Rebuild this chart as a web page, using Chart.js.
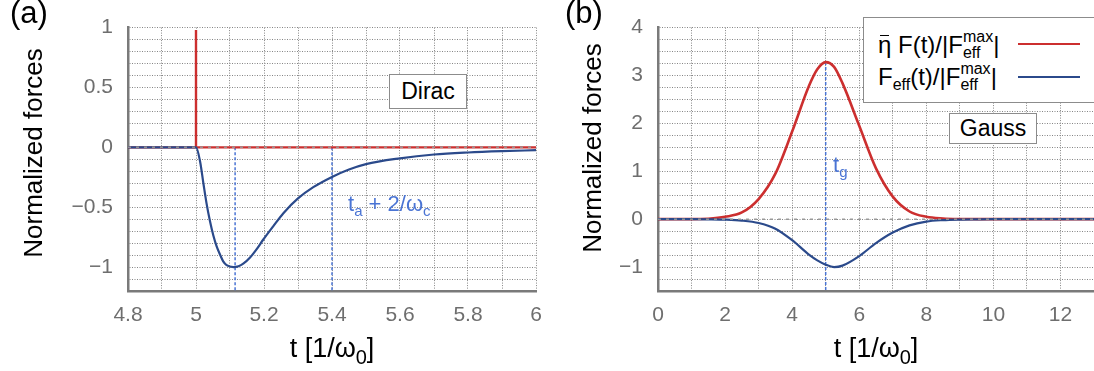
<!DOCTYPE html>
<html>
<head>
<meta charset="utf-8">
<script src="https://cdn.jsdelivr.net/npm/chart.js@4.4.1/dist/chart.umd.min.js"></script>
<style>
html,body{margin:0;padding:0;background:#fff;}
body{width:1094px;height:371px;position:relative;overflow:hidden;font-family:'Liberation Sans',Arial,Helvetica,sans-serif;}
canvas{position:absolute;top:0;}
.t{position:absolute;white-space:nowrap;color:#000;}
.panel{font-size:31px;line-height:1;}
.ytitle{font-size:26px;line-height:1;transform:translate(-50%,-50%) rotate(-90deg);}
.xtitle{font-size:27px;line-height:40px;transform:translateX(-50%);}
.xtitle .sub{font-size:20px;vertical-align:-7px;line-height:1;}
.box{position:absolute;box-sizing:border-box;border:1.5px solid #8c8c8c;background:#fff;display:flex;align-items:center;justify-content:center;font-size:23px;line-height:1;color:#000;}
.leg{font-size:24px;line-height:40px;}
.leg .ss{display:inline-block;vertical-align:-5px;font-size:16px;line-height:16px;}
.leg .ss span{display:block;}
.leg .sub{font-size:16px;line-height:1;vertical-align:-5px;}
.eta{position:relative;display:inline-block;}
.eta::before{content:'';position:absolute;left:2px;right:2px;top:10px;height:1.6px;background:#000;}
.ann{font-size:22px;line-height:40px;color:#4a74d4;}
.ann .sub{font-size:15px;line-height:1;vertical-align:-5px;}
.legline{position:absolute;height:2px;}
</style>
</head>
<body>
<canvas id="cA" width="546" height="371" style="left:0;width:546px;height:371px;"></canvas>
<canvas id="cB" width="544" height="371" style="left:550px;width:544px;height:371px;"></canvas>

<div class="t panel" style="left:10px;top:-3px;">(a)</div>
<div class="t panel" style="left:565px;top:-3px;">(b)</div>

<div class="t ytitle" style="left:33px;top:153px;">Normalized forces</div>
<div class="t ytitle" style="left:592px;top:148px;">Normalized forces</div>

<div class="t xtitle" style="left:332px;top:328px;">t [1/ω<span class="sub">0</span>]</div>
<div class="t xtitle" style="left:876px;top:328px;">t [1/ω<span class="sub">0</span>]</div>

<div class="box" style="left:389px;top:74px;width:78px;height:35px;">Dirac</div>
<div class="box" style="left:949px;top:113px;width:88px;height:31px;">Gauss</div>

<div class="box" style="left:863px;top:17px;width:240px;height:86px;"></div>
<div class="t leg" style="left:878px;top:24.7px;"><span class="eta">η</span> F(t)/|F<span class="ss"><span>max</span><span>eff</span></span>|</div>
<div class="t leg" style="left:878px;top:56.7px;">F<span class="sub">eff</span>(t)/|F<span class="ss"><span>max</span><span>eff</span></span>|</div>
<div class="legline" style="left:1018px;top:43px;width:62px;background:#cc2f2f;"></div>
<div class="legline" style="left:1018px;top:76px;width:62px;background:#2b4a8b;"></div>

<div class="t ann" style="left:348px;top:184.4px;">t<span class="sub">a</span> + 2/ω<span class="sub">c</span></div>
<div class="t ann" style="left:833px;top:145.4px;">t<span class="sub">g</span></div>

<script>
// ---------- Panel (a): Dirac drive ----------
const aTime = [4.8, 5.0, 5.012, 5.022, 5.031, 5.041, 5.051, 5.061, 5.071, 5.08, 5.09, 5.11, 5.125, 5.139, 5.159, 5.178, 5.198, 5.227, 5.257, 5.3, 5.345, 5.4, 5.45, 5.5, 5.6, 5.7, 5.8, 5.9, 6.0];
const aEff  = [0, 0, -0.118, -0.306, -0.468, -0.616, -0.737, -0.83, -0.898, -0.952, -0.984, -1.0, -0.993, -0.972, -0.92, -0.852, -0.77, -0.66, -0.55, -0.427, -0.333, -0.247, -0.185, -0.14, -0.092, -0.06, -0.043, -0.032, -0.024];
const aDriveTime = [4.8, 5.0, 5.0, 5.0, 6.0];
const aDrive     = [0, 0, 0.98, 0, 0];
const aMarkers = [5.115, 5.4];          // t_min and t_a + 2/ω_c
const aXRange = [4.8, 6.0];
const aYRange = [-1.2, 1.0];

// ---------- Panel (b): Gauss drive ----------
const bTime  = [0, 0.5, 1, 1.5, 2, 2.5, 3, 3.5, 4, 4.5, 4.75, 5, 5.25, 5.5, 6, 6.5, 7, 7.5, 8, 8.5, 9, 9.5, 10, 11, 12, 13];
const bDrive = [0, 0, 0, 0.01, 0.05, 0.14, 0.42, 0.95, 1.83, 2.78, 3.13, 3.28, 3.18, 2.84, 1.95, 1.06, 0.47, 0.16, 0.05, 0.015, 0.003, 0, 0, 0, 0, 0];
const bEff   = [0, 0, 0, -0.003, -0.01, -0.03, -0.08, -0.2, -0.44, -0.74, -0.86, -0.95, -1.0, -0.97, -0.77, -0.5, -0.28, -0.13, -0.05, -0.02, -0.008, -0.003, 0, 0, 0, 0];
const bMarkerT = 5.0;                    // t_g
const bMarkerTop = 3.28;
const bXRange = [0, 13];
const bYRange = [-1.5, 4];

const RED = '#cc2f2f', BLUE = '#2b4a8b', MARK = '#4a74d4';
const FONT = "'Liberation Sans', Arial, Helvetica, sans-serif";

const pts = (xs, ys) => xs.map((x, i) => ({x, y: ys[i]}));
const fmt = n => String(n).replace('-', '\u2212');

function scaleCfg(range, step, labelEvery, fixed, isX) {
  return {
    type: 'linear', min: range[0], max: range[1],
    afterFit: s => { if (isX) s.height = fixed; else s.width = fixed; },
    ticks: {
      stepSize: step, autoSkip: false, maxRotation: 0, minRotation: 0, maxTicksLimit: 1000,
      padding: isX ? 0 : 15,
      font: isX ? {family: FONT, size: 21, lineHeight: 2.34} : {family: FONT, size: 21},
      color: '#6e6e6e',
      callback: v => {
        const k = Math.round(v / step);
        return (k % labelEvery === 0) ? fmt(Math.round(k * step * 100) / 100) : '';
      }
    },
    grid: {color: '#858585', lineWidth: 1, drawTicks: false},
    border: {display: true, color: '#7a7a7a', width: 2.5, dash: [1, 1.5]}
  };
}

function makeChart(id, datasets, xs, ys, padRight) {
  return new Chart(document.getElementById(id), {
    type: 'line',
    data: {datasets},
    options: {
      responsive: false, animation: false, devicePixelRatio: 1,
      layout: {padding: {top: 18, right: padRight, left: 0, bottom: 0}},
      plugins: {legend: {display: false}, tooltip: {enabled: false}},
      elements: {point: {radius: 0}},
      scales: {x: xs, y: ys}
    }
  });
}

const zeroLine = r => ({data: [{x: r[0], y: 0}, {x: r[1], y: 0}], borderColor: 'rgba(150,150,150,0.95)', borderWidth: 1.5, borderDash: [3, 5], tension: 0});
const marker = (t, y0, y1) => ({data: [{x: t, y: y0}, {x: t, y: y1}], borderColor: MARK, borderWidth: 1.5, borderDash: [3, 2], tension: 0});

makeChart('cA', [
  zeroLine(aXRange),
  {data: pts(aTime, aEff), borderColor: BLUE, borderWidth: 2.2, cubicInterpolationMode: 'monotone'},
  {data: pts(aDriveTime, aDrive), borderColor: RED, borderWidth: 2.4, tension: 0},
  ...aMarkers.map(t => marker(t, 0, aYRange[0]))
], scaleCfg(aXRange, 0.1, 2, 80, true), scaleCfg(aYRange, 0.1, 5, 128, false), 10);

makeChart('cB', [
  zeroLine(bXRange),
  {data: pts(bTime, bEff), borderColor: BLUE, borderWidth: 2.2, cubicInterpolationMode: 'monotone'},
  {data: pts(bTime, bDrive), borderColor: RED, borderWidth: 2.6, cubicInterpolationMode: 'monotone'},
  marker(bMarkerT, bMarkerTop, bYRange[0])
], scaleCfg(bXRange, 1, 2, 80, true), scaleCfg(bYRange, 0.25, 4, 108, false), 0);
</script>
</body>
</html>
